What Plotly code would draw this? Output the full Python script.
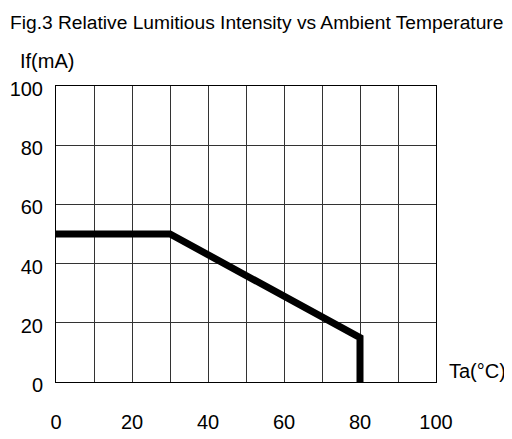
import plotly.graph_objects as go

# Data
temp_c = [0, 30, 80, 80]
if_ma = [50, 50, 15, 0]
x_tick_vals = [0, 10, 20, 30, 40, 50, 60, 70, 80, 90, 100]
x_tick_text = ["0", "", "20", "", "40", "", "60", "", "80", "", "100"]
y_tick_vals = [0, 20, 40, 60, 80, 100]
y_tick_text = ["0", "20", "40", "60", "80", "100"]

FONT = "Liberation Sans, Arial, sans-serif"

fig = go.Figure()
fig.add_trace(go.Scatter(
    x=temp_c, y=if_ma, mode="lines",
    line=dict(color="black", width=7),
    hoverinfo="skip", showlegend=False,
))

fig.update_layout(
    width=512, height=439,
    margin=dict(l=48, r=84, t=78, b=65, autoexpand=False),
    paper_bgcolor="white", plot_bgcolor="white",
    font=dict(family=FONT, color="black", size=20),
    title=dict(
        text="Fig.3 Relative Lumitious Intensity vs Ambient Temperature",
        x=2 / 512, xanchor="left", xref="container",
        y=1 - 14.5 / 439, yanchor="middle", yref="container",
        font=dict(family=FONT, size=19.2, color="black"),
        automargin=False,
    ),
    xaxis=dict(
        range=[0, 100], tickvals=x_tick_vals, ticktext=x_tick_text,
        showgrid=True, gridcolor="#333333", gridwidth=1,
        showline=True, linecolor="black", linewidth=1, mirror=True,
        ticks="", zeroline=False, ticklabelstandoff=22,
        tickfont=dict(size=20), automargin=False,
    ),
    yaxis=dict(
        range=[0, 100], tickvals=y_tick_vals, ticktext=y_tick_text,
        showgrid=True, gridcolor="#333333", gridwidth=1,
        showline=True, linecolor="black", linewidth=1, mirror=True,
        ticks="", zeroline=False, ticklabelstandoff=8, ticklabelshift=3,
        tickfont=dict(size=20), automargin=False,
    ),
    annotations=[
        dict(text="If(mA)", xref="paper", yref="paper",
             x=(10 - 48) / 380, y=(374 - 53) / 296,
             xanchor="left", yanchor="middle", showarrow=False,
             font=dict(size=20)),
        dict(text="Ta(°C)", xref="paper", yref="paper",
             x=(439 - 48) / 380, y=(374 - 363) / 296,
             xanchor="left", yanchor="middle", showarrow=False,
             font=dict(size=20)),
    ],
)

fig.write_html("out.html")
